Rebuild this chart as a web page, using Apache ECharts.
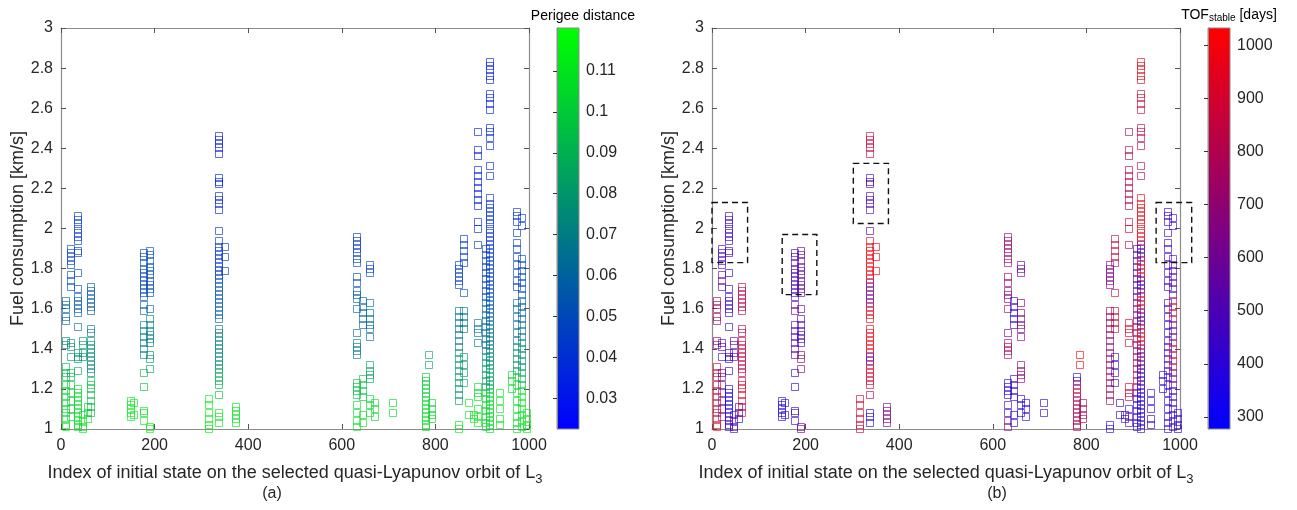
<!DOCTYPE html>
<html><head><meta charset="utf-8">
<script src="https://cdn.jsdelivr.net/npm/echarts@6/dist/echarts.min.js"></script>
<style>html,body{margin:0;padding:0;background:#fff}#c{width:1297px;height:510px}</style>
</head><body><div id="c"></div>
<script>
// ---- data ----
const perigeeTicks = [0.03,0.04,0.05,0.06,0.07,0.08,0.09,0.1,0.11];
const tofTicks = [300,400,500,600,700,800,900,1000];
const perigeeRange = [0.0225, 0.1205];
const tofRange = [277, 1033];
// segments: [index, perigee, TOF, [fuel values]]
const cluster1 = [
  [10,0.060,760,[1.64,1.62,1.60,1.56,1.54]],
  [10,0.075,720,[1.44,1.42]],
  [10,0.092,900,[1.31,1.28,1.26]],
  [10,0.105,930,[1.22,1.19,1.16,1.13,1.10,1.08,1.05]],
  [10,0.112,980,[1.02,1.01]],
  [21,0.045,480,[1.90,1.88,1.86,1.84,1.82]],
  [21,0.050,560,[1.77,1.74,1.71]],
  [21,0.074,430,[1.43,1.41]],
  [21,0.082,480,[1.36]],
  [21,0.092,620,[1.28,1.26]],
  [21,0.100,640,[1.22,1.18,1.14,1.10,1.06]],
  [37,0.040,430,[2.06,2.04,2.02,2.00,1.98,1.96,1.94]],
  [37,0.045,460,[1.89,1.88]],
  [37,0.048,400,[1.78,1.70]],
  [37,0.055,420,[1.66,1.64,1.62,1.60,1.58]],
  [37,0.062,380,[1.51]],
  [37,0.080,360,[1.38,1.36,1.35]],
  [37,0.088,380,[1.29]],
  [37,0.105,330,[1.20,1.18,1.16,1.14,1.12,1.10,1.08]],
  [37,0.110,420,[1.06,1.04,1.02,1.01]],
  [46,0.080,560,[1.44,1.42,1.38,1.36]],
  [46,0.110,520,[1.07,1.04,1.01,1.00]],
  [57,0.105,380,[1.11,1.08,1.05]],
  [64,0.055,820,[1.71,1.69,1.67,1.65,1.63,1.61,1.59]],
  [64,0.068,780,[1.50,1.48]],
  [64,0.076,850,[1.44,1.42,1.40,1.38,1.36,1.34,1.32,1.30,1.28]],
  [64,0.095,900,[1.24,1.22,1.20,1.17,1.14,1.11,1.08]]
];
const cluster2 = [
  [150,0.112,360,[1.14,1.12,1.10,1.08,1.06]],
  [155,0.112,380,[1.13,1.07]],
  [178,0.048,450,[1.88,1.86,1.83,1.80,1.78,1.76,1.74,1.72,1.70,1.68,1.66]],
  [178,0.058,560,[1.62,1.59]],
  [178,0.070,500,[1.52,1.49,1.46,1.43,1.40,1.37]],
  [178,0.088,400,[1.28]],
  [178,0.095,380,[1.21]],
  [178,0.110,420,[1.09,1.08,1.04]],
  [191,0.050,560,[1.89,1.87,1.84,1.81,1.79,1.77,1.74,1.72,1.70,1.68]],
  [191,0.060,580,[1.60]],
  [191,0.070,480,[1.55,1.52,1.49,1.47,1.45,1.43]],
  [191,0.080,700,[1.37,1.35]],
  [191,0.085,700,[1.30]],
  [191,0.115,620,[1.01,1.00]]
];
const cluster3 = [
  [316,0.115,900,[1.15,1.12,1.08,1.05,1.02,1.00]],
  [338,0.030,880,[2.46,2.44,2.42,2.40,2.37]],
  [338,0.033,500,[2.25,2.23,2.22,2.16,2.14,2.12,2.09]],
  [338,0.038,480,[1.99]],
  [338,0.040,1000,[1.94,1.91,1.89,1.87,1.85,1.83,1.81,1.79,1.77,1.75]],
  [338,0.052,620,[1.73,1.71,1.69,1.67,1.65,1.63]],
  [338,0.058,950,[1.61,1.59,1.57,1.55]],
  [338,0.070,980,[1.50,1.48,1.46,1.44,1.42,1.40,1.38]],
  [338,0.075,420,[1.36,1.34]],
  [338,0.078,950,[1.32,1.30]],
  [338,0.090,900,[1.28,1.26,1.24,1.22]],
  [338,0.095,850,[1.17]],
  [338,0.112,360,[1.08,1.06,1.03]],
  [350,0.040,1000,[1.91,1.86,1.79]],
  [373,0.110,650,[1.11,1.09,1.07,1.05,1.03]]
];
const cluster4 = [
  [633,0.040,700,[1.96,1.94,1.92,1.90,1.88]],
  [633,0.045,720,[1.85,1.83]],
  [633,0.050,720,[1.76,1.73]],
  [633,0.055,650,[1.69,1.67,1.65]],
  [633,0.058,760,[1.60]],
  [633,0.062,600,[1.48]],
  [633,0.068,760,[1.43,1.41,1.39,1.37]],
  [633,0.095,400,[1.23,1.21,1.19,1.17]],
  [633,0.105,420,[1.12,1.08]],
  [633,0.110,700,[1.04,1.01]],
  [646,0.060,360,[1.64,1.61,1.58,1.55,1.52]],
  [646,0.098,380,[1.25,1.22,1.19,1.16]],
  [646,0.108,380,[1.07,1.03]],
  [660,0.045,600,[1.82,1.80,1.78]],
  [660,0.062,660,[1.63,1.58,1.55,1.52,1.50,1.46]],
  [660,0.085,700,[1.32,1.29,1.27,1.25]],
  [660,0.105,360,[1.15,1.12,1.08]],
  [670,0.108,400,[1.13,1.10,1.06]],
  [710,0.105,380,[1.13,1.08]],
  [779,0.100,400,[1.26,1.24]],
  [779,0.100,850,[1.22,1.20,1.18,1.16]],
  [779,0.108,800,[1.14,1.12,1.10,1.08,1.06,1.04,1.02,1.01]],
  [786,0.085,1000,[1.37,1.32]],
  [793,0.105,760,[1.13,1.10,1.07,1.05]]
];
const cluster5 = [
  [851,0.045,640,[1.82,1.80,1.78,1.76,1.74,1.72]],
  [851,0.065,700,[1.59,1.56,1.53,1.50,1.47,1.44,1.41]],
  [851,0.080,760,[1.38,1.35,1.32,1.29,1.26,1.23,1.20,1.17,1.14]],
  [851,0.110,380,[1.02,1.00]],
  [862,0.040,860,[1.95,1.92,1.89,1.86,1.83]],
  [862,0.050,900,[1.68]],
  [862,0.065,900,[1.59,1.56,1.53,1.50]],
  [862,0.080,400,[1.36,1.32,1.28]],
  [862,0.088,400,[1.23]],
  [872,0.110,380,[1.13,1.07]],
  [882,0.112,400,[1.07,1.05]],
  [890,0.030,800,[2.48,2.39,2.36]],
  [890,0.032,820,[2.29,2.26,2.23,2.20,2.17,2.14,2.11]],
  [890,0.036,900,[2.03,2.00]],
  [890,0.040,820,[1.92]],
  [890,0.068,920,[1.53,1.50,1.48,1.43]],
  [890,0.105,880,[1.21,1.18,1.16]],
  [890,0.110,500,[1.10,1.06,1.03]],
  [909,0.045,450,[1.90,1.87,1.84,1.81,1.78,1.75,1.72,1.69,1.66]],
  [909,0.060,700,[1.63,1.60,1.57,1.54,1.51,1.48,1.45,1.42,1.39]],
  [909,0.080,850,[1.36,1.33,1.30,1.27,1.24,1.21]],
  [909,0.105,400,[1.18,1.15,1.12,1.09,1.06,1.03,1.01]],
  [916,0.030,960,[2.83,2.81,2.79,2.76,2.74]],
  [916,0.031,900,[2.67,2.65,2.62,2.59]],
  [916,0.033,850,[2.50,2.48,2.45,2.41]],
  [916,0.035,860,[2.31,2.26]],
  [916,0.038,1000,[2.15,2.12,2.10,2.08,2.06,2.04,2.02,2.00,1.98,1.96,1.94]],
  [916,0.042,500,[1.92,1.90,1.88,1.86]],
  [916,0.045,950,[1.84,1.82,1.80,1.78,1.76]],
  [916,0.048,420,[1.74,1.72,1.70]],
  [916,0.052,900,[1.68,1.66,1.64,1.62,1.60]],
  [916,0.060,500,[1.58,1.56,1.54,1.52]],
  [916,0.068,950,[1.50,1.48,1.46,1.44,1.42]],
  [916,0.075,600,[1.40,1.38,1.36,1.34,1.32]],
  [916,0.085,400,[1.30,1.28,1.26,1.24,1.22,1.20]],
  [916,0.105,380,[1.18,1.16,1.14,1.12,1.10,1.08,1.06,1.04,1.02,1.00]],
  [938,0.112,380,[1.18,1.14,1.10,1.05,1.02]],
  [963,0.105,400,[1.27,1.24,1.20]],
  [974,0.040,420,[2.08,2.06,2.03,1.98]],
  [974,0.045,450,[1.93,1.90,1.86,1.82,1.78,1.74,1.71]],
  [974,0.062,400,[1.63,1.60,1.56,1.52,1.48,1.44]],
  [974,0.080,420,[1.41,1.38,1.35,1.32,1.29]],
  [974,0.108,380,[1.26,1.22,1.18,1.14,1.10,1.06,1.03,1.00]],
  [984,0.042,430,[2.05,2.01]],
  [984,0.048,520,[1.85,1.82,1.79,1.76,1.73,1.70,1.67]],
  [984,0.058,900,[1.64,1.61,1.58,1.55]],
  [984,0.066,550,[1.52,1.49,1.46]],
  [984,0.075,880,[1.43,1.40,1.37,1.34,1.31]],
  [984,0.088,600,[1.28,1.25,1.22]],
  [984,0.110,450,[1.19,1.16,1.13,1.10,1.07,1.04,1.01]],
  [996,0.112,380,[1.08,1.05,1.02,1.00]]
];
// dashed boxes in panel (b): [x0, y0, x1, y1]
const boxes = [[0,1.83,76,2.13],[150,1.67,224,1.97],[302,2.025,377,2.325],[949,1.83,1025,2.13]];
const perigeeColors = ['#0000ff','#00ff00'];
const tofColors = ['#0000ff','#ff0000'];

// ---- build ----
const points = [].concat(cluster1, cluster2, cluster3, cluster4, cluster5)
  .flatMap(s => s[3].map(y => [s[0], y, s[1], s[2]]));

const FONT = "'Liberation Sans', Arial, Helvetica, sans-serif";
const AX = '#8c8c8c', TXT = '#262626';
function sq(params, api) {
  const c = api.coord([api.value(0), api.value(1)]);
  const s = 7;
  return {type:'rect', shape:{x:Math.round(c[0])-s/2, y:Math.round(c[1])-s/2, width:s, height:s},
    style:{fill:'none', stroke:api.visual('color'), lineWidth:1, opacity:0.62}};
}
function boxR(params, api) {
  const a = api.coord([api.value(0), api.value(3)]);
  const b = api.coord([api.value(2), api.value(1)]);
  return {type:'rect', shape:{x:a[0], y:a[1], width:b[0]-a[0], height:b[1]-a[1]},
    style:{fill:'none', stroke:'#111', lineWidth:1.4, lineDash:[6,4]}};
}
function cbarR(colors) {
  return function(params, api) {
    const a = api.coord([0, api.value(1)]);
    const b = api.coord([1, api.value(0)]);
    return {type:'rect', shape:{x:a[0], y:a[1], width:b[0]-a[0], height:b[1]-a[1]},
      style:{fill:new echarts.graphic.LinearGradient(0,0,0,1,[{offset:0,color:colors[1]},{offset:1,color:colors[0]}])}};
  };
}
function mainX(grid, top) {
  return {gridIndex:grid, type:'value', min:0, max:1000, interval:200, position: top?'top':'bottom',
    axisLine:{show:true, onZero:false, lineStyle:{color:AX, width:1.2}},
    axisTick:{show:true, inside:true, length:5, lineStyle:{color:'#555'}},
    axisLabel:{show:!top, color:TXT, fontSize:16, fontFamily:FONT, margin:9, formatter:v => String(v)},
    splitLine:{show:false},
    name: top ? '' : '{n|Index of initial state on the selected quasi-Lyapunov orbit of L}{s|3}',
    nameLocation:'middle', nameGap:31,
    nameTextStyle:{rich:{n:{fontSize:18, color:TXT, fontFamily:FONT}, s:{fontSize:13, color:TXT, fontFamily:FONT, padding:[13,0,0,0]}}}};
}
function mainY(grid, right) {
  return {gridIndex:grid, type:'value', min:1, max:3, interval:0.2, position: right?'right':'left',
    axisLine:{show:true, onZero:false, lineStyle:{color:AX, width:1.2}},
    axisTick:{show:true, inside:true, length:5, lineStyle:{color:'#555'}},
    axisLabel:{show:!right, color:TXT, fontSize:16, fontFamily:FONT, margin:8},
    splitLine:{show:false},
    name: right ? '' : 'Fuel consumption [km/s]', nameLocation:'middle', nameGap:34, nameRotate:90,
    nameTextStyle:{fontSize:18, color:TXT, fontFamily:FONT}};
}
function cbY(grid, range, ticks) {
  return {gridIndex:grid, type:'value', min:range[0], max:range[1], position:'right', z:10,
    axisLine:{show:true, lineStyle:{color:AX}},
    axisTick:{show:true, inside:true, length:4, customValues:ticks, lineStyle:{color:'#333'}},
    axisLabel:{show:true, customValues:ticks, color:TXT, fontSize:16, fontFamily:FONT, margin:7, formatter:v => String(v)},
    splitLine:{show:false}};
}
function cbX(grid) {
  return {gridIndex:grid, type:'value', min:0, max:1, show:false};
}
const chart = echarts.init(document.getElementById('c'), null, {renderer:'canvas'});
chart.setOption({
  animation:false,
  backgroundColor:'#fff',
  grid:[
    {left:61, top:28, width:468, height:401},
    {left:712, top:28, width:468, height:401},
    {left:557, top:28, width:22, height:401, show:true, borderColor:AX, borderWidth:1, z:10},
    {left:1208, top:28, width:22, height:401, show:true, borderColor:AX, borderWidth:1, z:10}
  ],
  xAxis:[mainX(0,false), mainX(0,true), mainX(1,false), mainX(1,true), cbX(2), cbX(3)],
  yAxis:[mainY(0,false), mainY(0,true), mainY(1,false), mainY(1,true),
         cbY(2, perigeeRange, perigeeTicks), cbY(3, tofRange, tofTicks)],
  visualMap:[
    {type:'continuous', show:false, seriesIndex:0, dimension:2, min:perigeeRange[0], max:perigeeRange[1],
     inRange:{color:perigeeColors}},
    {type:'continuous', show:false, seriesIndex:1, dimension:3, min:tofRange[0], max:tofRange[1],
     inRange:{color:tofColors}}
  ],
  series:[
    {type:'custom', xAxisIndex:0, yAxisIndex:0, data:points, renderItem:sq, clip:false, silent:true,
     encode:{x:0, y:1}, dimensions:['index','fuel','perigee','tof']},
    {type:'custom', xAxisIndex:2, yAxisIndex:2, data:points, renderItem:sq, clip:false, silent:true,
     encode:{x:0, y:1}, dimensions:['index','fuel','perigee','tof']},
    {type:'custom', xAxisIndex:2, yAxisIndex:2, data:boxes, renderItem:boxR, clip:false, silent:true, z:5},
    {type:'custom', xAxisIndex:4, yAxisIndex:4, data:[perigeeRange], renderItem:cbarR(perigeeColors), silent:true, z:1},
    {type:'custom', xAxisIndex:5, yAxisIndex:5, data:[tofRange], renderItem:cbarR(tofColors), silent:true, z:1}
  ],
  graphic:[
    {type:'text', position:[583,16], style:{text:'Perigee distance', font:'14px '+FONT, fill:'#000', textAlign:'center', textVerticalAlign:'middle'}},
    {type:'text', position:[1229,15], style:{text:'{a|TOF}{b|stable}{a| [days]}', textAlign:'center', textVerticalAlign:'middle',
      rich:{a:{fontSize:14, fontFamily:FONT, fill:'#000'}, b:{fontSize:10, fontFamily:FONT, fill:'#000', padding:[6,0,0,0]}}}},
    {type:'text', position:[272,494], style:{text:'(a)', font:'16px '+FONT, fill:TXT, textAlign:'center', textVerticalAlign:'middle'}},
    {type:'text', position:[997,494], style:{text:'(b)', font:'16px '+FONT, fill:TXT, textAlign:'center', textVerticalAlign:'middle'}}
  ]
});
</script></body></html>
